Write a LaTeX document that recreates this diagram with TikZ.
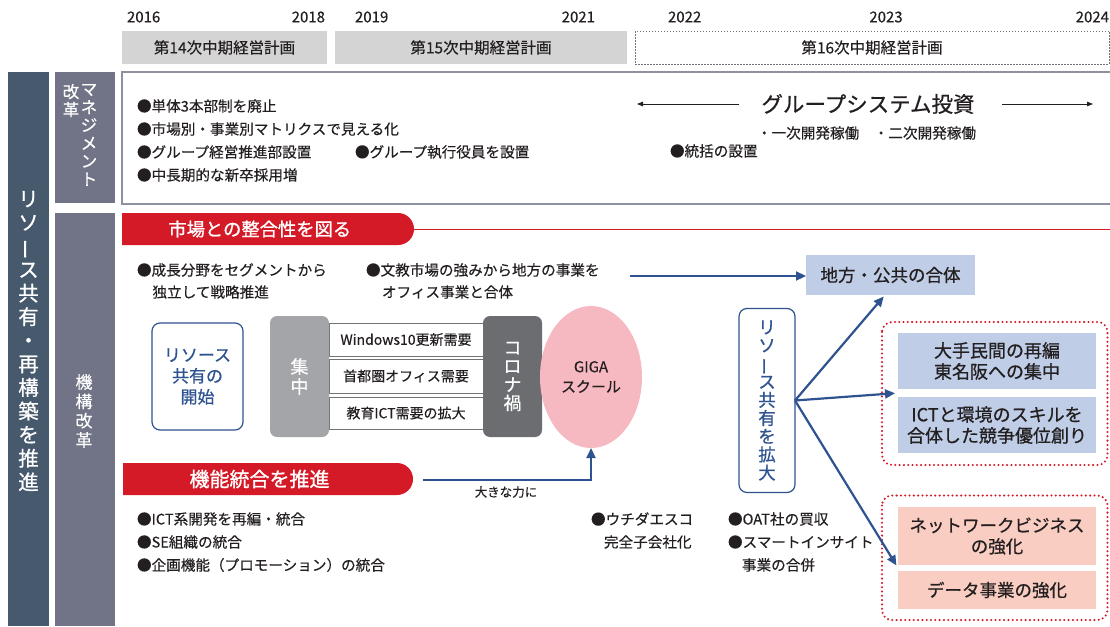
\documentclass[tikz,border=0pt]{standalone}
\usepackage{fontspec}
\setmainfont{Noto Sans CJK JP}[FakeBold=0.35]
\newfontfamily\hfont{Noto Sans CJK JP}[FakeBold=1.1]
\newfontfamily\mfont{Noto Sans CJK JP}[FakeBold=0.7]
\usetikzlibrary{arrows.meta,shapes.geometric,shapes.misc,calc}
\definecolor{hgray}{HTML}{D4D4D4}
\definecolor{dcol}{HTML}{46596D}
\definecolor{gcol}{HTML}{717486}
\definecolor{hred}{HTML}{D51A27}
\definecolor{ablue}{HTML}{2E5390}
\definecolor{boxblue}{HTML}{BFCDE6}
\definecolor{salmon}{HTML}{F9CDC2}
\definecolor{gpink}{HTML}{F6B8C1}
\definecolor{sgray}{HTML}{A4A5A9}
\definecolor{cgray}{HTML}{6C6D71}
\definecolor{mgline}{HTML}{8E91A0}
\definecolor{ink}{HTML}{231F20}
\newcommand\vbar{\rotatebox[origin=c]{90}{ー}}
\begin{document}
\begin{tikzpicture}[x=1pt,y=-1pt,
  every node/.style={inner sep=0pt,outer sep=0pt,text=ink},
  yr/.style={font=\fontsize{15}{18}\selectfont},
  plan/.style={fill=hgray,minimum height=33,anchor=north west,font=\fontsize{15.5}{18}\selectfont},
  body/.style={anchor=west,font=\fontsize{14.6}{17}\selectfont},
  redhead/.style={rounded rectangle,rounded rectangle west arc=none,fill=hred,minimum height=32,anchor=north west,text=white},
  rowbox/.style={draw=black!55,line width=0.9pt,fill=white,minimum width=154,font=\fontsize{14}{17}\selectfont},
  pillar/.style={rounded corners=7pt,minimum width=59,minimum height=121,text=white,align=center,font=\fontsize{18}{20}\selectfont},
  bluebox/.style={draw=ablue,line width=1.2pt,rounded corners=8pt,text=ablue,align=center},
  goal/.style={minimum width=198,align=center,font=\mfont\fontsize{18}{21}\selectfont},
  barrow/.style={draw=ablue,line width=2.2pt,-{Triangle[length=10pt,width=9pt]}},
  marrow/.style={draw=ink,line width=0.9pt,-{Triangle[length=6pt,width=4.5pt]}},
  reddot/.style={draw=hred,line width=2.3pt,dash pattern=on 0pt off 4.3pt,line cap=round,rounded corners=10pt},
  vtext/.style={align=center,text=white}
]
\useasboundingbox (0,0) rectangle (1110,626);

% years
\node[yr,anchor=west] (y16) at (127,17) {2016};
\node[yr,anchor=east] (y18) at (325,17) {2018};
\node[yr,anchor=west] (y19) at (355,17) {2019};
\node[yr,anchor=east] (y21) at (595,17) {2021};
\node[yr,anchor=west] (y22) at (668,17) {2022};
\node[yr] (y23) at (886,17) {2023};
\node[yr,anchor=east] (y24) at (1109,17) {2024};

% plan boxes
\node[plan,minimum width=205] (p14) at (122,31) {第14次中期経営計画};
\node[plan,minimum width=292] (p15) at (335,31) {第15次中期経営計画};
\node[plan,fill=none,draw=black!55,line width=0.8pt,dash pattern=on 1.5pt off 1.5pt,minimum width=474] (p16) at (635,31) {第16次中期経営計画};

% left columns
\fill[dcol] (8,72) rectangle (49,626);
\node[vtext,font=\mfont\fontsize{20.5}{23.6}\selectfont] (main) at (28.5,341) {リ\\ソ\\\vbar\\ス\\共\\有\\・\\再\\構\\築\\を\\推\\進};
\fill[gcol] (55,72) rectangle (115,203);
\fill[gcol] (55,213) rectangle (115,626);
\node[vtext,anchor=north,font=\fontsize{16.5}{18}\selectfont] (mg1) at (89,84) {マ\\ネ\\ジ\\メ\\ン\\ト};
\node[vtext,anchor=north,font=\fontsize{16.5}{18}\selectfont] (mg2) at (71,84) {改\\革};
\node[vtext,font=\fontsize{17}{19.3}\selectfont] (kk) at (84,411) {機\\構\\改\\革};

% management box
\draw[mgline,line width=1.3pt] (1112,72) -- (122,72) -- (122,204) -- (1112,204);
\node[body] (m1) at (137,106) {●単体3本部制を廃止};
\node[body] (m2) at (137,129) {●市場別・事業別マトリクスで見える化};
\node[body] (m3) at (137,152) {●グループ経営推進部設置};
\node[body] (m4) at (355,152) {●グループ執行役員を設置};
\node[body] (m5) at (137,175) {●中長期的な新卒採用増};
\node[font=\mfont\fontsize{21.5}{24}\selectfont] (gsi) at (868,104) {グループシステム投資};
\coordinate (gl) at (739,104);
\coordinate (gle) at (637,104);
\coordinate (gr) at (1002,104);
\coordinate (gre) at (1093,104);
\draw[marrow] (gl) -- (gle);
\draw[marrow] (gr) -- (gre);
\node[body] (dev) at (757,133) {・一次開発稼働　・二次開発稼働};
\node[body] (tk) at (670,151) {●統括の設置};

% market heading
\node[redhead,minimum width=292,font=\hfont\fontsize{18.3}{20}\selectfont] (h1) at (122,213) {\hspace*{-14pt}市場との整合性を図る};
\coordinate (redend) at (1110,229);
\draw[hred,line width=0.9pt] (h1.east) -- (redend);
\node[body] (b1) at (137,270) {●成長分野をセグメントから};
\node[body] (b1b) at (152.5,292) {独立して戦略推進};
\node[body] (b2) at (366,270) {●文教市場の強みから地方の事業を};
\node[body] (b2b) at (382,292) {オフィス事業と合体};
\node[goal,fill=boxblue,minimum width=169,minimum height=40,font=\mfont\fontsize{17.5}{20}\selectfont] (chiho) at (890.5,275) {地方・公共の合体};
\coordinate (b2a) at (630,276);
\draw[barrow] (b2a) -- (chiho.west |- b2a);

% middle flow
\node[bluebox,minimum width=91,minimum height=107,font=\mfont\fontsize{17}{21}\selectfont] (start) at (197.5,376.5) {リソース\\共有の\\開始};
\node[rowbox,minimum height=33] (r1) at (406,339.5) {Windows10更新需要};
\node[rowbox,minimum height=34] (r2) at (406,376) {首都圏オフィス需要};
\node[rowbox,minimum height=32] (r3) at (406,413) {教育ICT需要の拡大};
\node[pillar,fill=sgray] (shu) at (299.5,376.5) {集\\中};
\node[pillar,fill=cgray,font=\fontsize{18}{18.5}\selectfont] (corona) at (512.5,376.5) {コ\\ロ\\ナ\\禍};
\node[ellipse,fill=gpink,minimum width=102,minimum height=142,align=center,font=\fontsize{15}{20}\selectfont] (giga) at (591,377) {GIGA\\スクール};

% function heading
\node[redhead,minimum width=290,font=\hfont\fontsize{20}{22}\selectfont] (h2) at (123,463) {\hspace*{-14pt}機能統合を推進};
\coordinate (bigs) at (423,480);
\draw[barrow] (bigs) -| (giga.south);
\node[font=\fontsize{12.5}{14}\selectfont] (bigl) at (506,492) {大きな力に};
\node[body] (c1) at (137,519) {●ICT系開発を再編・統合};
\node[body] (c2) at (137,542) {●SE組織の統合};
\node[body] (c3) at (137,565) {●企画機能（プロモーション）の統合};
\node[body] (d1) at (591,519) {●ウチダエスコ};
\node[body] (d1b) at (604,542) {完全子会社化};
\node[body] (e1) at (728,519) {●OAT社の買収};
\node[body] (e2) at (728,542) {●スマートインサイト};
\node[body] (e2b) at (742,565) {事業の合併};

% expand
\node[bluebox,minimum width=56,minimum height=184,font=\mfont\fontsize{17.5}{18.2}\selectfont] (expand) at (767,400.5) {リ\\ソ\\\vbar\\ス\\共\\有\\を\\拡\\大};

% right goals
\draw[reddot] (882,322) rectangle (1107.5,465);
\draw[reddot] (882,495.5) rectangle (1107.5,620);
\node[goal,fill=boxblue,minimum height=56] (oote) at (997,361) {大手民間の再編\\東名阪への集中};
\node[goal,fill=boxblue,minimum height=56] (ict) at (997,425) {ICTと環境のスキルを\\合体した競争優位創り};
\node[goal,fill=salmon,minimum height=58,font=\mfont\fontsize{17.5}{21}\selectfont] (net) at (997,536) {ネットワークビジネス\\の強化};
\node[goal,fill=salmon,minimum height=38,font=\mfont\fontsize{17.5}{21}\selectfont] (data) at (997,590) {データ事業の強化};
\coordinate (g1) at ($(oote.south west)!0.5!(ict.north west)$);
\coordinate (g2) at ($(net.south west)!0.5!(data.north west)$);
\draw[barrow,shorten >=2pt] (expand.east) -- (chiho.south -| 885,0);
\draw[barrow,shorten >=3pt] (expand.east) -- (g1);
\draw[barrow,shorten >=3pt] (expand.east) -- (g2);
\end{tikzpicture}
\end{document}
